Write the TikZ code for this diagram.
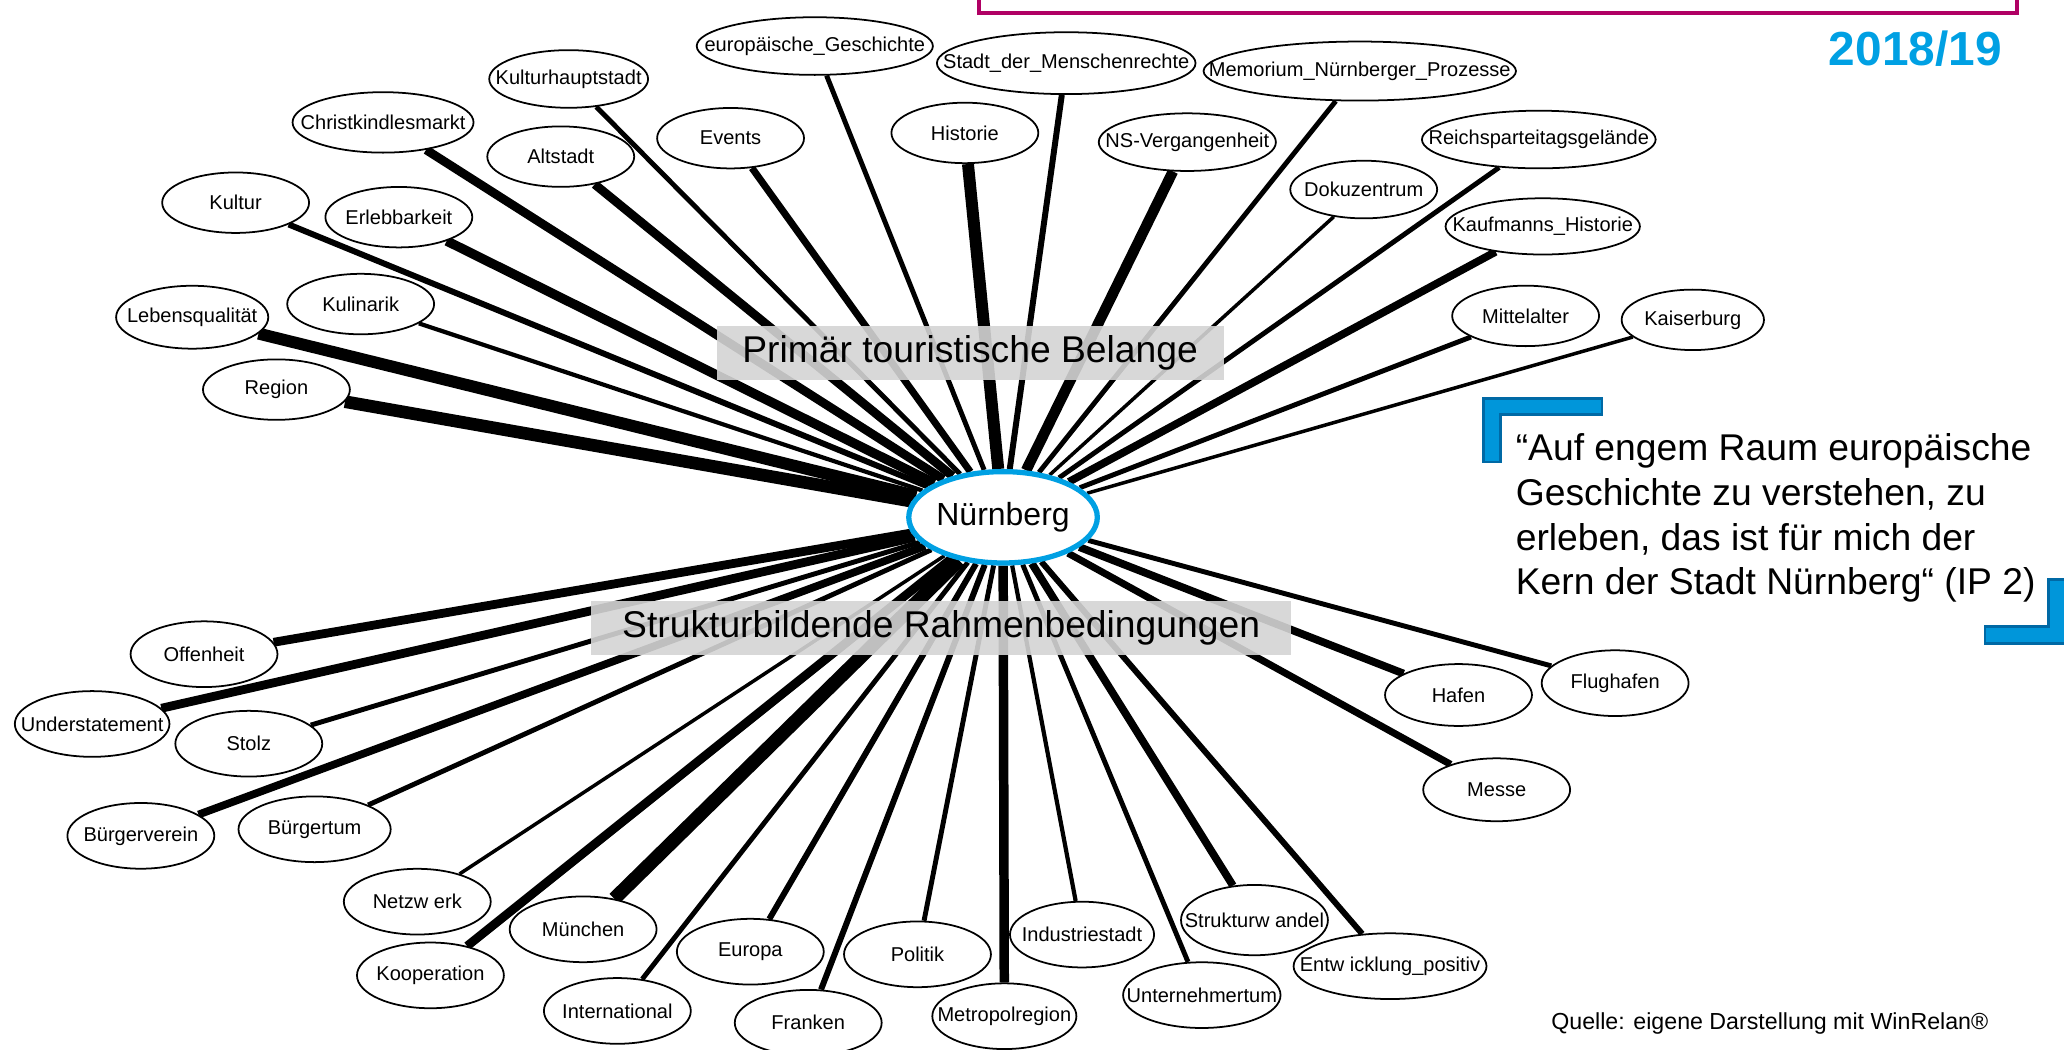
\documentclass[tikz,border=0pt]{standalone}
\usepackage{fontspec}
\setmainfont{Liberation Sans}
\usepackage{tikz}
\usetikzlibrary{shapes.geometric,backgrounds}
\definecolor{nbgblau}{RGB}{0,160,227}
\definecolor{klammerblau}{RGB}{0,150,218}
\definecolor{klammerrand}{RGB}{0,105,165}
\definecolor{rahmenrot}{RGB}{176,0,100}

\begin{document}
\begin{tikzpicture}[x=0.13163mm,y=-0.13163mm,
  begriff/.style={ellipse,draw,line width=0.5pt,fill=white,inner ysep=0pt,inner xsep=-15pt,
    minimum width=41.8pt,minimum height=17.2pt,font=\fontsize{5.7}{6.5}\selectfont},
  unten/.style={begriff,minimum height=18.7pt},
  belang/.style={fill=black!17,fill opacity=0.9,text opacity=1,inner sep=0pt,
    minimum height=15.5pt,font=\fontsize{10.6}{12}\selectfont},
  klammer/.style={fill=klammerblau,draw=klammerrand,line width=0.8pt}]
\useasboundingbox (0,0) rectangle (1568,797);% picture = reference size (disp px)

\draw[rahmenrot,line width=1.1pt] (744,-20) rectangle (1532,10);% frame of the title, cut at top
\node[font=\fontsize{13.6}{16}\selectfont\bfseries,text=nbgblau] (jahr) at (1455,37) {2018/19};

% centre
\node[ellipse,draw=nbgblau,line width=1.5pt,fill=white,inner sep=0pt,minimum width=53pt,
  minimum height=26pt,font=\fontsize{9.1}{11}\selectfont] (nbg) at (762,393) {Nürnberg};

% primaer touristische Belange (upper half)
\node[begriff] (kultur) at (179,154) {Kultur};
\node[begriff,minimum width=51.5pt] (christkindl) at (291,93) {Christkindlesmarkt};
\node[begriff,minimum width=45.2pt,minimum height=16.4pt] (kulturhst) at (432,60) {Kulturhauptstadt};
\node[begriff,minimum width=67.2pt,minimum height=16.4pt] (eurogesch) at (619,35) {europäische\_Geschichte};
\node[begriff,minimum width=73.6pt,minimum height=17.6pt] (menschenr) at (810,48) {Stadt\_der\_Menschenrechte};
\node[begriff,minimum width=88.9pt,minimum height=16.8pt] (memorium) at (1033,54) {Memorium\_Nürnberger\_Prozesse};
\node[begriff] (altstadt) at (426,119) {Altstadt};
\node[begriff] (events) at (555,105) {Events};
\node[begriff] (historie) at (733,101) {Historie};
\node[begriff,minimum width=50.4pt,minimum height=16.4pt] (nsverg) at (902,108) {NS-Vergangenheit};
\node[begriff] (erlebbar) at (303,165) {Erlebbarkeit};
\node[begriff,minimum height=16.4pt] (dokuz) at (1036,144) {Dokuzentrum};
\node[begriff,minimum width=66.5pt,minimum height=16.4pt] (reichspt) at (1169,106) {Reichsparteitagsgelände};
\node[begriff,minimum width=55.3pt,minimum height=16pt] (kaufm) at (1172,172) {Kaufmanns\_Historie};
\node[begriff] (mittelalter) at (1159,240) {Mittelalter};
\node[begriff,minimum width=40.5pt] (kaiserburg) at (1286,243) {Kaiserburg};
\node[begriff] (kulinarik) at (274,231) {Kulinarik};
\node[begriff,minimum width=43.3pt,minimum height=17.9pt] (lebensq) at (146,241) {Lebensqualität};
\node[begriff] (region) at (210,296) {Region};

% strukturbildende Rahmenbedingungen (lower half)
\node[unten] (offenheit) at (155,497) {Offenheit};
\node[unten,minimum width=44pt] (understatement) at (70,550) {Understatement};
\node[unten] (stolz) at (189,565) {Stolz};
\node[unten] (bverein) at (107,635) {Bürgerverein};
\node[unten,minimum width=43.3pt] (btum) at (239,630) {Bürgertum};
\node[unten] (netzwerk) at (317,685) {Netzw erk};
\node[unten] (kooperation) at (327,741) {Kooperation};
\node[unten] (muenchen) at (443,706) {München};
\node[unten] (international) at (469,768) {International};
\node[unten] (europa) at (570,723) {Europa};
\node[unten] (franken) at (614,777) {Franken};
\node[unten] (politik) at (697,725) {Politik};
\node[unten,minimum width=41pt] (metropol) at (763,772) {Metropolregion};
\node[unten,minimum width=41pt] (industrie) at (822,710) {Industriestadt};
\node[unten,minimum width=44.8pt] (unternehmer) at (913,756) {Unternehmertum};
\node[unten,minimum height=20pt] (strukturw) at (953,699) {Strukturw andel};
\node[unten,minimum width=54.9pt] (entwicklung) at (1056,734) {Entw icklung\_positiv};
\node[unten,minimum height=17.6pt] (hafen) at (1108,528) {Hafen};
\node[unten] (flughafen) at (1227,519) {Flughafen};
\node[unten,minimum height=17.9pt] (messe) at (1137,600) {Messe};

% connections, width = strength
\begin{scope}[on background layer]
\foreach \b/\w in {kultur/1.7pt, christkindl/2.5pt, kulturhst/1.4pt, eurogesch/1.4pt,
    menschenr/1.7pt, memorium/1.4pt, altstadt/2.5pt, events/2pt, historie/3.4pt,
    nsverg/3pt, erlebbar/2.7pt, dokuz/1pt, reichspt/1.4pt, kaufm/2.2pt,
    mittelalter/1.4pt, kaiserburg/1pt, kulinarik/1.2pt, lebensq/3.4pt, region/3.6pt,
    offenheit/2.5pt, understatement/2.5pt, stolz/1.4pt, bverein/2.2pt, btum/1.4pt,
    netzwerk/1pt, kooperation/2.5pt, muenchen/3.9pt, international/1.4pt, europa/1.7pt,
    franken/1.7pt, politik/1.4pt, metropol/2.7pt, industrie/1.2pt, unternehmer/1.4pt,
    strukturw/2.2pt, entwicklung/1.7pt, hafen/2.2pt, flughafen/1.4pt, messe/2pt}
  \draw[line width=\w] (\b) -- (nbg);
\end{scope}

\node[belang,minimum width=144.2pt] (primaer) at (737,268) {Primär touristische Belange};
\node[belang,minimum width=199pt] (struktur) at (715,477) {Strukturbildende Rahmenbedingungen};

% quote with blue corner brackets
\fill[klammer] (1127,303) -- (1217,303) -- (1217,315) -- (1140,315) -- (1140,351) -- (1127,351) -- cycle;
\fill[klammer] (1508,476) -- (1556,476) -- (1556,440) -- (1572,440) -- (1572,489) -- (1508,489) -- cycle;
\node[anchor=north west,inner sep=0pt,align=left,font=\fontsize{10.6}{12.7}\selectfont] (zitat)
  at (1151,329) {“Auf engem Raum europäische\\Geschichte zu verstehen, zu\\erleben, das ist für mich der\\Kern der Stadt Nürnberg“ (IP 2)};

\node[anchor=base west,inner sep=0pt,font=\fontsize{6.6}{8}\selectfont] (quelle) at (1178,782)
  {Quelle: eigene Darstellung mit WinRelan®};
\end{tikzpicture}
\end{document}
